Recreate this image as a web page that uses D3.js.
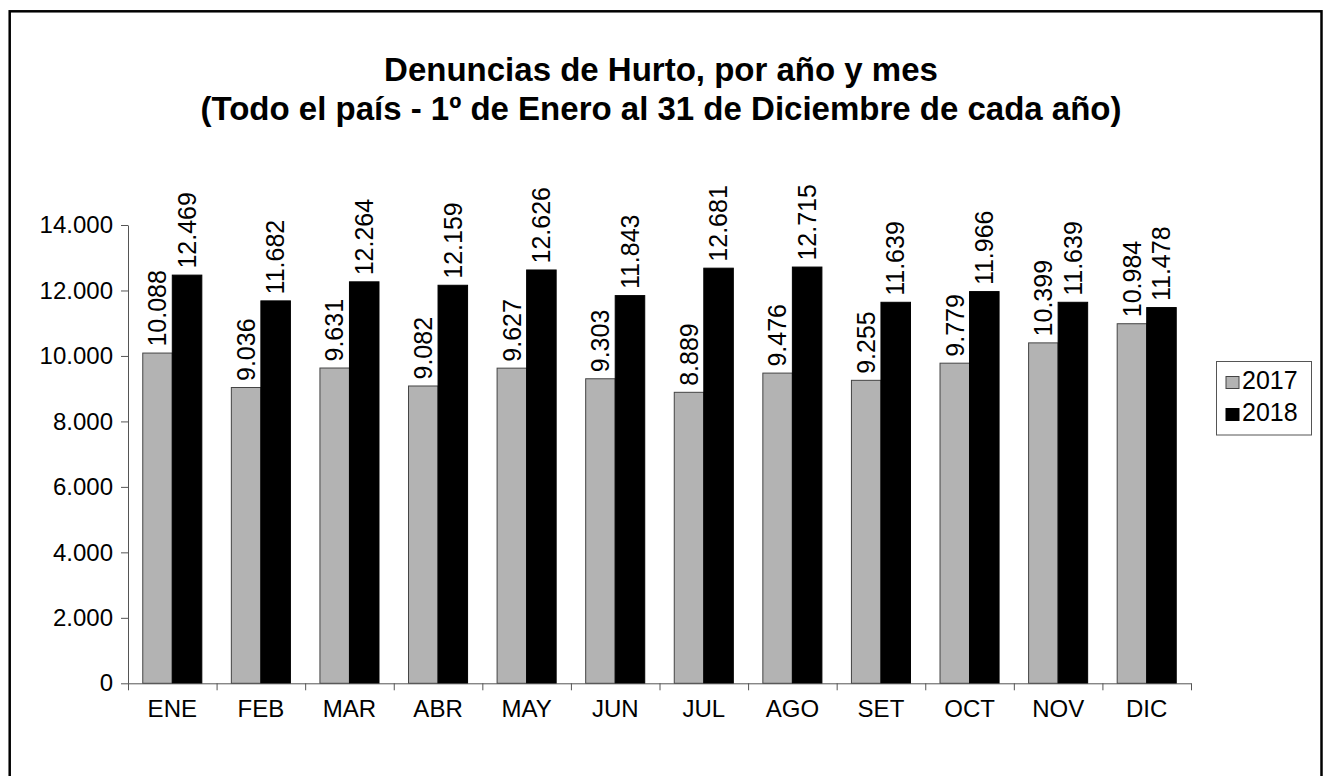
<!DOCTYPE html>
<head>
  <meta charset="utf-8">
  <script src="https://d3js.org/d3.v7.min.js"></script>
  <style>
    body { margin:0; background:#fff; }
    text { font-family: Arial, "Liberation Sans", sans-serif; }
  </style>
</head>
<body>
<script>

// data
var months = ["ENE","FEB","MAR","ABR","MAY","JUN","JUL","AGO","SET","OCT","NOV","DIC"];
var years = ["2017","2018"];
var values2017 = [10088, 9036, 9631, 9082, 9627, 9303, 8889, 9476, 9255, 9779, 10399, 10984];
var values2018 = [12469, 11682, 12264, 12159, 12626, 11843, 12681, 12715, 11639, 11966, 11639, 11478];
var yTicks = [0, 2000, 4000, 6000, 8000, 10000, 12000, 14000];
var titleLines = ["Denuncias de Hurto, por año y mes",
                  "(Todo el país - 1º de Enero al 31 de Diciembre de cada año)"];

var colors = {"2017": "#b3b3b3", "2018": "#000000"};
var strokes = {"2017": "#444", "2018": "#000"};

var W = 1324, H = 776;
var plot = {left: 128, right: 1191, top: 225, bottom: 683.3};

var es = d3.formatLocale({decimal: ",", thousands: ".", grouping: [3], currency: ["$", ""]});
var fmt = es.format(",d");

var svg = d3.select("body").append("svg")
    .attr("width", W)
    .attr("height", H);

// outer frame
svg.append("rect")
    .attr("x", 9.7).attr("y", 11.3)
    .attr("width", 1311.8).attr("height", 800)
    .attr("fill", "none")
    .attr("stroke", "#000")
    .attr("stroke-width", 2.5);

// title
svg.append("g").selectAll("text")
  .data(titleLines)
  .enter().append("text")
    .attr("x", 661)
    .attr("y", function(d, i){ return 81 + i * 39; })
    .attr("text-anchor", "middle")
    .attr("font-size", "33px")
    .attr("font-weight", "bold")
    .text(function(d){ return d; });

var x = d3.scaleBand()
    .domain(months)
    .range([plot.left, plot.right])
    .paddingInner(1/3)
    .paddingOuter(1/6);

var xs = d3.scaleBand()
    .domain(years)
    .range([0, x.bandwidth()]);

var y = d3.scaleLinear()
    .domain([0, 14000])
    .range([plot.bottom, plot.top]);

var table = months.map(function(m, i){
  return {month: m, vals: [{year: "2017", v: values2017[i]}, {year: "2018", v: values2018[i]}]};
});

// bars
var groups = svg.append("g").selectAll("g")
  .data(table)
  .enter().append("g")
    .attr("transform", function(d){ return "translate(" + x(d.month) + ",0)"; });

groups.selectAll("rect")
  .data(function(d){ return d.vals; })
  .enter().append("rect")
    .attr("x", function(d){ return xs(d.year); })
    .attr("y", function(d){ return y(d.v); })
    .attr("width", xs.bandwidth())
    .attr("height", function(d){ return y(0) - y(d.v); })
    .attr("fill", function(d){ return colors[d.year]; })
    .attr("stroke", function(d){ return strokes[d.year]; })
    .attr("stroke-width", 1);

// value labels, rotated
groups.selectAll("text")
  .data(function(d){ return d.vals; })
  .enter().append("text")
    .attr("transform", function(d){
      return "translate(" + (xs(d.year) + xs.bandwidth() / 2) + "," + (y(d.v) - 6.5) + ") rotate(-90)";
    })
    .attr("dy", "0.35em")
    .attr("font-size", "25px")
    .text(function(d){ return fmt(d.v); });

// y axis
var yAxis = svg.append("g")
    .attr("transform", "translate(" + plot.left + ",0)")
    .call(d3.axisLeft(y).tickValues(yTicks).tickFormat(fmt).tickSize(7).tickPadding(8).tickSizeOuter(0));
yAxis.selectAll("text").attr("font-size", "24px").attr("fill", "#000")
    .style("font-family", "Arial, 'Liberation Sans', sans-serif");
yAxis.selectAll("line, path").attr("stroke", "#555");

// x axis: labels at band centers, ticks at band edges
var xEdge = d3.scaleLinear().domain([0, months.length]).range([plot.left, plot.right]);
var xTickAxis = svg.append("g")
    .attr("transform", "translate(0," + plot.bottom + ")")
    .call(d3.axisBottom(xEdge).ticks(months.length).tickFormat("").tickSize(7).tickSizeOuter(0));
xTickAxis.selectAll("line, path").attr("stroke", "#555");

var xLabelAxis = svg.append("g")
    .attr("transform", "translate(0," + plot.bottom + ")")
    .call(d3.axisBottom(x).tickSize(0).tickPadding(17));
xLabelAxis.select("path").remove();
xLabelAxis.selectAll("text").attr("font-size", "24px").attr("fill", "#000")
    .style("font-family", "Arial, 'Liberation Sans', sans-serif");

// legend
var legend = svg.append("g");
legend.append("rect")
    .attr("x", 1216.5).attr("y", 361.5)
    .attr("width", 95).attr("height", 73.5)
    .attr("fill", "#fff")
    .attr("stroke", "#555");
var items = legend.selectAll("g.item")
  .data(years)
  .enter().append("g")
    .attr("class", "item")
    .attr("transform", function(d, i){ return "translate(1226," + (376.5 + i * 32) + ")"; });
items.append("rect")
    .attr("width", 13).attr("height", 12)
    .attr("fill", function(d){ return colors[d]; })
    .attr("stroke", function(d){ return strokes[d]; });
items.append("text")
    .attr("x", 16)
    .attr("y", 12.5)
    .attr("font-size", "25px")
    .text(function(d){ return d; });

</script>
</body>
